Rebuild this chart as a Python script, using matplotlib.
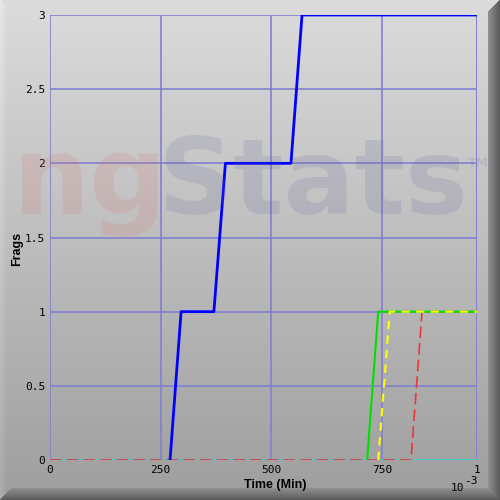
import numpy as np
import matplotlib
matplotlib.use("Agg")
import matplotlib.pyplot as plt

# frags over time (x in 1e-3 min)
blue_x = [271, 296, 370, 396, 544, 569, 964]
blue_y = [0, 1, 1, 2, 2, 3, 3]
green_x = [716, 741, 964]
green_y = [0, 1, 1]
yellow_x = [741, 767, 964]
yellow_y = [0, 1, 1]
red_x = [0, 815, 840, 964]
red_y = [0, 0, 1, 1]
cyan_x = [0, 964]
cyan_y = [0, 0]

xticks = [0, 250, 500, 750, 964]
xlabels = ['0', '250', '500', '750', '1']
yticks = [0, 0.5, 1, 1.5, 2, 2.5, 3]
ylabels = ['0', '0.5', '1', '1.5', '2', '2.5', '3']

W = H = 500
fig = plt.figure(figsize=(5, 5), dpi=100)

# background gradient with bevel
g = np.linspace(0.86, 0.62, H)[:, None] * np.ones((1, W))
img = np.dstack([g, g, g])
for i in range(12):
    shade = 0.36 + i * 0.018
    img[H - 1 - i, i:W - i, :] = shade
    img[i:H - i, W - 1 - i, :] = shade
for i in range(6):
    img[i:H - i, i, :] = np.minimum(img[i:H - i, i, :] + 0.05 - i * 0.008, 1)
bg = fig.add_axes([0, 0, 1, 1], zorder=-10)
bg.imshow(img, aspect='auto', extent=[0, 1, 0, 1])
bg.axis('off')

# watermark
fig.text(13 / W, 1 - 214 / H, 'ng', fontsize=78, fontweight='bold',
         family='DejaVu Sans', color=(0.85, 0.45, 0.45), alpha=0.17,
         ha='left', va='baseline')
fig.text(157 / W, 1 - 214 / H, 'Stats', fontsize=76, fontweight='bold',
         family='DejaVu Sans', color=(0.40, 0.40, 0.62), alpha=0.17,
         ha='left', va='baseline')
fig.text(468 / W, 1 - 167 / H, 'TM', fontsize=9, fontweight='bold',
         family='DejaVu Sans', color=(0.40, 0.40, 0.62), alpha=0.17,
         ha='left', va='baseline')

ax = fig.add_axes([50 / W, 40 / H, 427 / W, 445 / H])
ax.patch.set_alpha(0)
ax.set_xlim(0, 964)
ax.set_ylim(0, 3)
for s in ax.spines.values():
    s.set_visible(False)
ax.grid(True, color='#8080d0', lw=1.2)
ax.axvline(964, color='#8080d0', lw=1.2)
ax.set_xticks(xticks)
ax.set_xticklabels(xlabels, family='DejaVu Sans Mono', fontsize=8)
ax.set_yticks(yticks)
ax.set_yticklabels(ylabels, family='DejaVu Sans Mono', fontsize=8)
ax.tick_params(length=0, pad=3.5)

ax.plot(cyan_x, cyan_y, color='#30d8d0', lw=1.2, zorder=3)
ax.plot(red_x, red_y, color='#e83838', lw=1.2, ls=(0, (7, 3)), zorder=4)
ax.plot(green_x, green_y, color='#00e000', lw=1.5, zorder=5)
ax.plot(yellow_x, yellow_y, color='#ffff00', lw=1.5, ls=(0, (4, 3)), zorder=6)
ax.plot(blue_x, blue_y, color='#0000ff', lw=2, zorder=7)

fig.text(275 / W, 1 - 485 / H, 'Time (Min)', fontweight='bold', fontsize=9,
         family='Liberation Sans', ha='center', va='center')
fig.text(17 / W, 1 - 249 / H, 'Frags', fontweight='bold', fontsize=9,
         family='Liberation Sans', ha='center', va='center', rotation=90)

fig.text(451 / W, 1 - 491 / H, '10', family='DejaVu Sans Mono', fontsize=8,
         ha='left', va='baseline')
fig.text(464 / W, 1 - 484 / H, '-3', family='DejaVu Sans Mono', fontsize=8,
         ha='left', va='baseline')

fig.savefig('out.png', dpi=100)
